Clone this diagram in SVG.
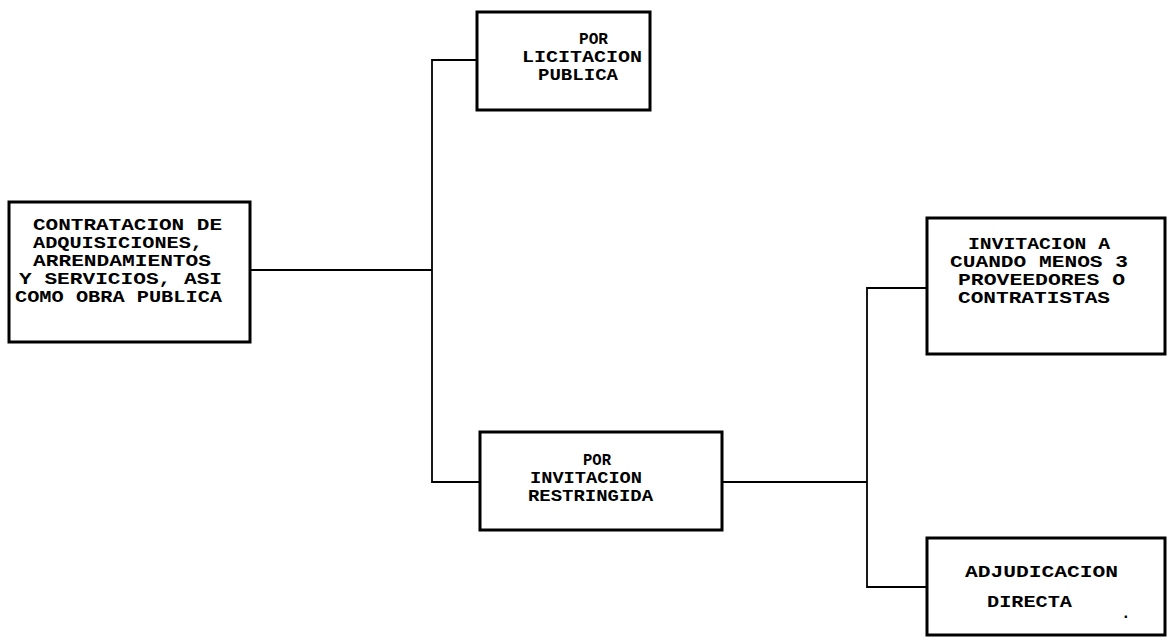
<svg xmlns="http://www.w3.org/2000/svg" width="1168" height="643" viewBox="0 0 1168 643">
<style>
.box{fill:#fff;stroke:#000;stroke-width:3}
.conn{fill:none;stroke:#000;stroke-width:1.8}
text{font-family:"Liberation Mono","DejaVu Sans Mono",monospace;font-weight:bold;font-size:16px;fill:#000}
</style>
<rect width="1168" height="643" fill="#fff"/>
<g id="connectors">
<polyline class="conn" points="250,270 432,270"/>
<polyline class="conn" points="477,60 432,60 432,482 480,482"/>
<polyline class="conn" points="722,482 867,482"/>
<polyline class="conn" points="927,288 867,288 867,587 927,587"/>
</g>
<g id="contratacion">
<rect class="box" x="9" y="202" width="241" height="140"/>
<text x="33" y="230" textLength="189" lengthAdjust="spacingAndGlyphs">CONTRATACION DE</text>
<text x="33" y="248" textLength="170" lengthAdjust="spacingAndGlyphs">ADQUISICIONES,</text>
<text x="33" y="266" textLength="178" lengthAdjust="spacingAndGlyphs">ARRENDAMIENTOS</text>
<text x="19" y="284" textLength="203" lengthAdjust="spacingAndGlyphs">Y SERVICIOS, ASI</text>
<text x="15" y="302" textLength="207" lengthAdjust="spacingAndGlyphs">COMO OBRA PUBLICA</text>
</g>
<g id="licitacion">
<rect class="box" x="477" y="12" width="173" height="98"/>
<text x="579" y="44" textLength="29" lengthAdjust="spacingAndGlyphs">POR</text>
<text x="522" y="62" textLength="120" lengthAdjust="spacingAndGlyphs">LICITACION</text>
<text x="538" y="80" textLength="80" lengthAdjust="spacingAndGlyphs">PUBLICA</text>
</g>
<g id="invitacion-restringida">
<rect class="box" x="480" y="432" width="242" height="98"/>
<text x="583" y="465" textLength="28" lengthAdjust="spacingAndGlyphs">POR</text>
<text x="530" y="483" textLength="112" lengthAdjust="spacingAndGlyphs">INVITACION</text>
<text x="528" y="501" textLength="125" lengthAdjust="spacingAndGlyphs">RESTRINGIDA</text>
</g>
<g id="invitacion-3">
<rect class="box" x="927" y="218" width="238" height="136"/>
<text x="968" y="249" textLength="142" lengthAdjust="spacingAndGlyphs">INVITACION A</text>
<text x="950" y="267" textLength="178" lengthAdjust="spacingAndGlyphs">CUANDO MENOS 3</text>
<text x="958" y="285" textLength="167" lengthAdjust="spacingAndGlyphs">PROVEEDORES O</text>
<text x="958" y="303" textLength="152" lengthAdjust="spacingAndGlyphs">CONTRATISTAS</text>
</g>
<g id="adjudicacion">
<rect class="box" x="927" y="538" width="238" height="97"/>
<text x="965" y="577" textLength="153" lengthAdjust="spacingAndGlyphs">ADJUDICACION</text>
<text x="987" y="607" textLength="85" lengthAdjust="spacingAndGlyphs">DIRECTA</text>
<text x="1121" y="618">.</text>
</g>
</svg>
